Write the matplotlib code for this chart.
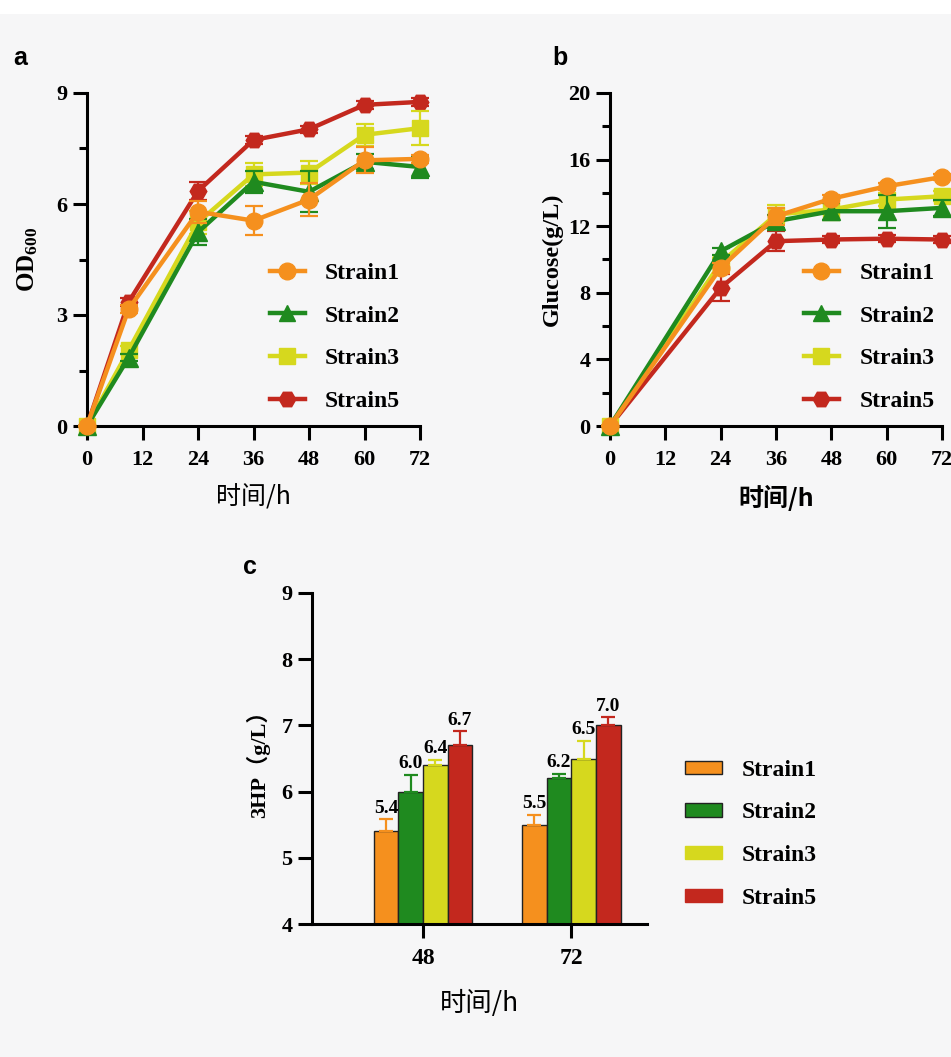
import matplotlib
matplotlib.use("Agg")
import matplotlib.pyplot as plt
from matplotlib.patches import Rectangle
from matplotlib.lines import Line2D
import numpy as np

# ---------------- data ----------------
strains = ["Strain1", "Strain2", "Strain3", "Strain5"]
colors = ["#f5901e", "#1f8a1f", "#d6d81e", "#c3281e"]
markers = ["o", "^", "s", "H"]

# (a) OD600 over time
od_time = [0, 9, 24, 36, 48, 60, 72]
od_s1 = [0, 3.16, 5.79, 5.55, 6.12, 7.18, 7.22]
od_s2 = [0, 1.85, 5.24, 6.60, 6.33, 7.14, 7.00]
od_s3 = [0, 2.05, 5.50, 6.80, 6.85, 7.87, 8.05]
od_s5 = [0, 3.35, 6.35, 7.73, 8.02, 8.68, 8.76]
od_e1 = [0, 0.10, 0.30, 0.40, 0.45, 0.35, 0.10]
od_e2 = [0, 0.10, 0.35, 0.30, 0.55, 0.20, 0.30]
od_e3 = [0, 0.10, 0.30, 0.32, 0.30, 0.30, 0.45]
od_e5 = [0, 0.10, 0.25, 0.10, 0.10, 0.10, 0.10]

# (b) glucose consumed over time
glc_time = [0, 24, 36, 48, 60, 72]
glc_s1 = [0, 9.5, 12.6, 13.65, 14.4, 14.95]
glc_s2 = [0, 10.5, 12.3, 12.9, 12.9, 13.1]
glc_s3 = [0, 9.8, 12.7, 13.0, 13.6, 13.8]
glc_s5 = [0, 8.3, 11.1, 11.2, 11.25, 11.2]
glc_e1 = [0, 0.3, 0.5, 0.2, 0.2, 0.2]
glc_e2 = [0, 0.2, 0.4, 0.5, 1.0, 0.5]
glc_e3 = [0, 0.3, 0.55, 0.6, 0.4, 0.3]
glc_e5 = [0, 0.8, 0.6, 0.2, 0.2, 0.2]

# (c) 3HP titre
hp_groups = ["48", "72"]
hp_s1 = [5.4, 5.5]
hp_s2 = [6.0, 6.2]
hp_s3 = [6.4, 6.5]
hp_s5 = [6.7, 7.0]
hp_e1 = [0.18, 0.15]
hp_e2 = [0.25, 0.07]
hp_e3 = [0.08, 0.27]
hp_e5 = [0.21, 0.12]

# ---------------- style ----------------
plt.rcParams["font.family"] = ["Liberation Serif", "Noto Sans CJK SC"]
plt.rcParams["font.weight"] = "bold"
plt.rcParams["mathtext.fontset"] = "custom"
plt.rcParams["mathtext.rm"] = "Liberation Serif:bold"
plt.rcParams["mathtext.bf"] = "Liberation Serif:bold"
plt.rcParams["axes.linewidth"] = 2.2

W, H = 951, 1057
fig = plt.figure(figsize=(W / 100, H / 100), dpi=100, facecolor="#f6f6f7")
fig.patches.append(Rectangle((0, 1 - 14 / H), 1, 14 / H, transform=fig.transFigure,
                             facecolor="white", edgecolor="none", zorder=0))

LEG_FONT = {"family": "Liberation Serif", "weight": "bold", "size": 17}


def px_axes(left, top, right, bottom):
    return fig.add_axes([left / W, 1 - bottom / H, (right - left) / W, (bottom - top) / H])


def style_axes(ax):
    ax.set_facecolor("none")
    for s in ("top", "right"):
        ax.spines[s].set_visible(False)
    ax.tick_params(axis="x", which="major", direction="out", length=10, width=2.2,
                   labelsize=16, pad=7)
    ax.tick_params(axis="y", which="major", direction="out", length=10, width=2.2,
                   labelsize=16, pad=4)
    ax.tick_params(which="minor", direction="out", length=6, width=2.2)
    for lab in ax.get_xticklabels() + ax.get_yticklabels():
        lab.set_fontweight("bold")


cjk = ["Noto Sans CJK SC", "DejaVu Sans"]
draw_order = [3, 2, 1, 0]  # red at the bottom, orange on top


def line_panel(ax, t, series, errs):
    for i in draw_order:
        ax.errorbar(t, series[i], yerr=errs[i], color=colors[i], marker=markers[i],
                    markersize=12 if markers[i] != "^" else 13, linewidth=3.2,
                    elinewidth=1.6, capsize=6.5, capthick=1.6,
                    markeredgecolor=colors[i], clip_on=False, zorder=3 + (3 - i))


def line_legend(ax, anchor):
    handles = [Line2D([], [], color=colors[i], marker=markers[i], markersize=12,
                      linewidth=3.2) for i in range(4)]
    ax.legend(handles, strains, loc="upper left", bbox_to_anchor=anchor,
              frameon=False, prop=LEG_FONT,
              handlelength=1.5, handletextpad=0.85, labelspacing=0.9, borderaxespad=0)


# ---------------- panel a ----------------
ax1 = px_axes(87, 93, 420, 426)
line_panel(ax1, od_time, [od_s1, od_s2, od_s3, od_s5], [od_e1, od_e2, od_e3, od_e5])
ax1.set_xlim(0, 72)
ax1.set_ylim(0, 9)
ax1.set_xticks(np.arange(0, 73, 12))
ax1.set_yticks([0, 3, 6, 9])
ax1.set_yticks([1.5, 4.5, 7.5], minor=True)
style_axes(ax1)
ax1.set_ylabel(r"$\mathbf{OD_{600}}$", fontsize=18, labelpad=12)
ax1.set_xlabel("时间/h", family=cjk, fontsize=18, fontweight="normal", labelpad=11)
line_legend(ax1, (0.52, 0.52))
fig.text(20 / W, 1 - 58 / H, "a", family="Liberation Sans", fontweight="bold",
         fontsize=18, ha="center", va="center")

# ---------------- panel b ----------------
ax2 = px_axes(610, 93, 942, 426)
line_panel(ax2, glc_time, [glc_s1, glc_s2, glc_s3, glc_s5],
           [glc_e1, glc_e2, glc_e3, glc_e5])
ax2.set_xlim(0, 72)
ax2.set_ylim(0, 20)
ax2.set_xticks(np.arange(0, 73, 12))
ax2.set_yticks([0, 4, 8, 12, 16, 20])
ax2.set_yticks([2, 6, 10, 14, 18], minor=True)
style_axes(ax2)
ax2.set_ylabel("Glucose(g/L)", fontsize=17.5, fontweight="bold", labelpad=4)
ax2.set_xlabel("时间/h", family=cjk, fontsize=18, fontweight="bold", labelpad=11)
line_legend(ax2, (0.555, 0.52))
fig.text(560 / W, 1 - 58 / H, "b", family="Liberation Sans", fontweight="bold",
         fontsize=18, ha="center", va="center")

# ---------------- panel c ----------------
ax3 = px_axes(312, 593, 647, 924)
x = np.arange(len(hp_groups))
bw = 0.166
vals = [hp_s1, hp_s2, hp_s3, hp_s5]
errs = [hp_e1, hp_e2, hp_e3, hp_e5]
for i in range(4):
    pos = x + (i - 1.5) * bw
    ax3.bar(pos, np.array(vals[i]) - 4, bottom=4, width=bw, color=colors[i],
            edgecolor="#222222", linewidth=1.0, zorder=2)
    ax3.errorbar(pos, vals[i], yerr=[np.zeros(len(x)), errs[i]], fmt="none",
                 ecolor=colors[i], elinewidth=1.6, capsize=5, capthick=1.6, zorder=3)
    for p, v, e in zip(pos, vals[i], errs[i]):
        ax3.text(p, v + e + 0.04, f"{v:.1f}", ha="center", va="bottom",
                 fontsize=14, fontweight="bold", zorder=4)
ax3.set_xlim(-0.748, 1.51)
ax3.set_ylim(4, 9)
ax3.set_xticks(x)
ax3.set_xticklabels(hp_groups)
ax3.set_yticks(np.arange(4, 10, 1))
style_axes(ax3)
ax3.tick_params(axis="x", labelsize=17)
ax3.set_ylabel("3HP（g/L）", family=["Liberation Serif", "Noto Sans CJK SC"],
               fontsize=16, fontweight="bold", labelpad=8)
ax3.set_xlabel("时间/h", family=cjk, fontsize=19, fontweight="normal", labelpad=15)
patch_handles = [Rectangle((0, 0), 1, 1, facecolor=colors[i],
                           edgecolor="#222222" if i < 2 else colors[i], linewidth=1.0)
                 for i in range(4)]
ax3.legend(patch_handles, strains, loc="upper left", bbox_to_anchor=(1.086, 0.525),
           frameon=False, prop=LEG_FONT,
           handlelength=1.55, handleheight=0.5, handletextpad=0.85, labelspacing=0.92,
           borderaxespad=0)
fig.text(250 / W, 1 - 567 / H, "c", family="Liberation Sans", fontweight="bold",
         fontsize=18, ha="center", va="center")

fig.savefig("out.png", dpi=100, facecolor=fig.get_facecolor())
